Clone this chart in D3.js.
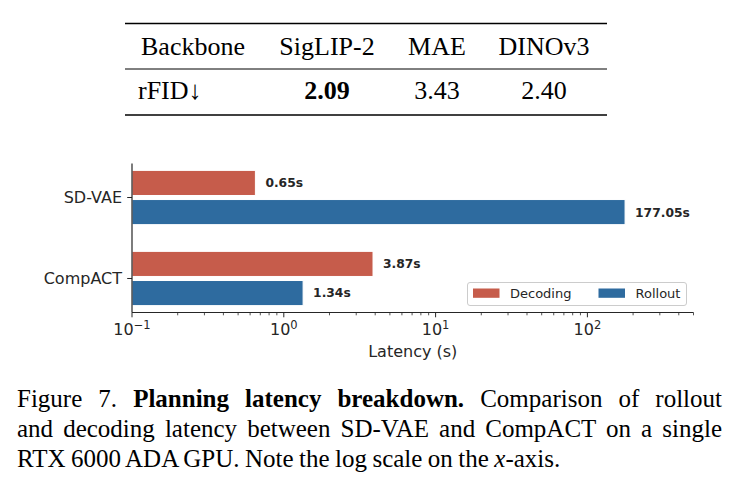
<!DOCTYPE html>
<html>
<head>
<meta charset="utf-8">
<script src="https://cdn.jsdelivr.net/npm/d3@7"></script>
<style>
  body { margin: 0; background: #fff; }
  svg { display: block; }
</style>
</head>
<body>
<div id="chart"></div>
<script>
// table data
var tableHead = ["Backbone", "SigLIP-2", "MAE", "DINOv3"];
var tableRow = ["rFID\u2193", "2.09", "3.43", "2.40"];
var bestCol = 1;

// chart data
var categories = ["SD-VAE", "CompACT"];
var decoding = [0.65, 3.87];
var rollout = [177.05, 1.34];
var seriesNames = ["Decoding", "Rollout"];
var seriesColors = ["#c65c4b", "#2e6b9f"];
var xTicks = [0.1, 1, 10, 100];
var tickExp = ["\u22121", "0", "1", "2"];

var W = 740, H = 494;
var svg = d3.select("#chart").append("svg").attr("width", W).attr("height", H);

var serif = "'Liberation Serif', 'Times New Roman', serif";
var sans = "'DejaVu Sans', sans-serif";

/** table **/
var tbl = svg.append("g");
var colX = [141, 327, 437, 544];
[23.5, 69, 115].forEach(function (y, i) {
    tbl.append("line").attr("x1", 125).attr("x2", 607).attr("y1", y).attr("y2", y)
        .attr("stroke", "#000").attr("stroke-width", i === 1 ? 1 : 1.5);
});
tbl.selectAll(".head").data(tableHead).enter().append("text")
    .attr("x", function (d, i) { return colX[i]; })
    .attr("y", 55)
    .attr("text-anchor", function (d, i) { return i === 0 ? "start" : "middle"; })
    .style("font-family", serif).style("font-size", "26px")
    .text(function (d) { return d; });
tbl.selectAll(".row").data(tableRow).enter().append("text")
    .attr("x", function (d, i) { return i === 0 ? 138 : colX[i]; })
    .attr("y", 99)
    .attr("text-anchor", function (d, i) { return i === 0 ? "start" : "middle"; })
    .style("font-family", serif).style("font-size", "26px")
    .style("font-weight", function (d, i) { return i === bestCol ? "bold" : "normal"; })
    .text(function (d) { return d; });

/** bar chart **/
var x = d3.scaleLog().domain([0.1, 500]).range([132, 693.5]);
var y = d3.scaleLinear().domain([-0.42, 1.42]).range([163.5, 312.5]);
var barH = 0.31, off = 0.18;

var bars = [];
categories.forEach(function (c, i) {
    bars.push({cat: i, s: 0, v: decoding[i]});
    bars.push({cat: i, s: 1, v: rollout[i]});
});

var chart = svg.append("g");
chart.selectAll(".bar").data(bars).enter().append("rect")
    .attr("x", x(0.1))
    .attr("y", function (d) { return y(d.cat + (d.s === 0 ? -off : off) - barH / 2); })
    .attr("width", function (d) { return x(d.v) - x(0.1); })
    .attr("height", y(barH) - y(0))
    .attr("fill", function (d) { return seriesColors[d.s]; })
    .attr("stroke", "#fff").attr("stroke-width", 1);

chart.selectAll(".val").data(bars).enter().append("text")
    .attr("x", function (d) { return x(d.v) + 10; })
    .attr("y", function (d) { return y(d.cat + (d.s === 0 ? -off : off)); })
    .attr("dy", "0.36em")
    .style("font-family", sans).style("font-size", "12.3px").style("font-weight", "bold")
    .attr("fill", "#262626")
    .text(function (d) { return d.v.toFixed(2) + "s"; });

// x axis with minor ticks
var minor = [];
for (var e = -1; e <= 2; e++) {
    for (var m = 2; m <= 9; m++) {
        var v = m * Math.pow(10, e);
        if (v <= 500) minor.push(v);
    }
}
var xAxis = chart.append("g").attr("transform", "translate(0,312.5)");
xAxis.append("line").attr("x1", x(0.1)).attr("x2", x(500)).attr("stroke", "#262626").attr("stroke-width", 1.2);
xAxis.selectAll(".minor").data(minor).enter().append("line")
    .attr("x1", function (d) { return x(d); }).attr("x2", function (d) { return x(d); })
    .attr("y2", 2.8).attr("stroke", "#262626").attr("stroke-width", 0.8);
xAxis.selectAll(".major").data(xTicks).enter().append("line")
    .attr("x1", function (d) { return x(d); }).attr("x2", function (d) { return x(d); })
    .attr("y2", 4.8).attr("stroke", "#262626").attr("stroke-width", 1);
var tl = xAxis.selectAll(".tl").data(xTicks).enter().append("text")
    .attr("x", function (d) { return x(d); })
    .attr("y", 22)
    .attr("text-anchor", "middle")
    .style("font-family", sans).style("font-size", "16px").attr("fill", "#262626");
tl.append("tspan").text("10");
tl.append("tspan").attr("dy", "-0.45em").style("font-size", "11.5px")
    .text(function (d, i) { return tickExp[i]; });

chart.append("text").attr("x", (x(0.1) + x(500)) / 2).attr("y", 357)
    .attr("text-anchor", "middle")
    .style("font-family", sans).style("font-size", "16px").attr("fill", "#262626")
    .text("Latency (s)");

// y axis
var yAxis = chart.append("g");
yAxis.append("line").attr("x1", 132).attr("x2", 132).attr("y1", 163.5).attr("y2", 312.5)
    .attr("stroke", "#262626").attr("stroke-width", 1.2);
yAxis.selectAll(".yt").data(categories).enter().append("line")
    .attr("x1", 127.2).attr("x2", 132)
    .attr("y1", function (d, i) { return y(i); }).attr("y2", function (d, i) { return y(i); })
    .attr("stroke", "#262626");
yAxis.selectAll(".yl").data(categories).enter().append("text")
    .attr("x", 122).attr("y", function (d, i) { return y(i); })
    .attr("dy", "0.36em").attr("text-anchor", "end")
    .style("font-family", sans).style("font-size", "16px").attr("fill", "#262626")
    .text(function (d) { return d; });

// legend
var leg = chart.append("g");
leg.append("rect").attr("x", 467.5).attr("y", 282.5).attr("width", 219).attr("height", 23)
    .attr("rx", 2.5).attr("fill", "#fff").attr("fill-opacity", 0.8)
    .attr("stroke", "#cccccc").attr("stroke-width", 1);
var legX = [473, 598.5];
seriesNames.forEach(function (n, i) {
    leg.append("rect").attr("x", legX[i]).attr("y", 288.5).attr("width", 26.5).attr("height", 9.3)
        .attr("fill", seriesColors[i]);
    leg.append("text").attr("x", legX[i] + 37).attr("y", 293.2).attr("dy", "0.36em")
        .style("font-family", sans).style("font-size", "13px").attr("fill", "#262626")
        .text(n);
});

/** caption: justified lines get extra word spacing **/
var cap = svg.append("g").style("font-family", serif).style("font-size", "25px").attr("fill", "#000");
function justify(t, width) {
    var natural = t.node().getComputedTextLength();
    var spaces = (t.text().match(/ /g) || []).length;
    if (spaces > 0 && natural < width) t.style("word-spacing", ((width - natural) / spaces) + "px");
}
var l1 = cap.append("text").attr("x", 17).attr("y", 407);
l1.append("tspan").text("Figure 7. ");
l1.append("tspan").style("font-weight", "bold").text("Planning latency breakdown.");
l1.append("tspan").text(" Comparison of rollout");
justify(l1, 705);
var l2 = cap.append("text").attr("x", 17).attr("y", 437)
    .text("and decoding latency between SD-VAE and CompACT on a single");
justify(l2, 705);
var l3 = cap.append("text").attr("x", 17).attr("y", 467).style("word-spacing", "-0.8px");
l3.append("tspan").text("RTX 6000 ADA GPU. Note the log scale on the ");
l3.append("tspan").style("font-style", "italic").text("x");
l3.append("tspan").text("-axis.");
</script>
</body>
</html>
